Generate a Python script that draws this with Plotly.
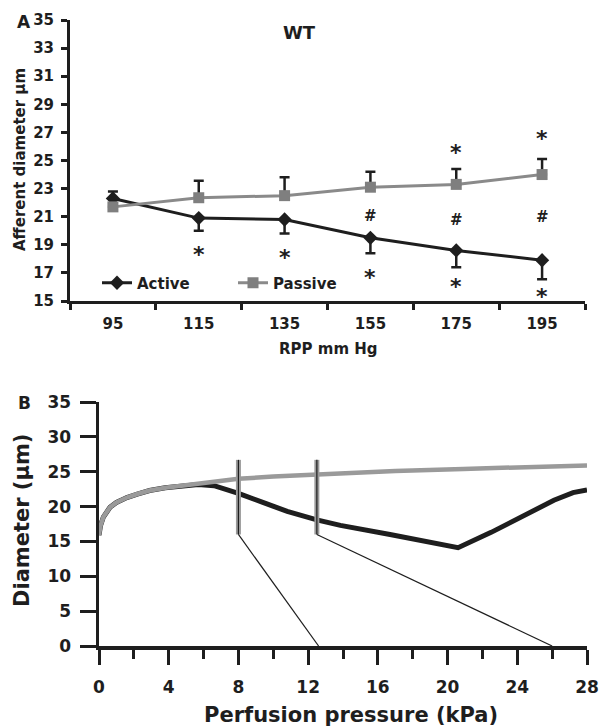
import plotly.graph_objects as go

# ---------------- Panel A data ----------------
rpp_labels = ["95", "115", "135", "155", "175", "195"]
active_mean = [22.3, 20.9, 20.8, 19.5, 18.6, 17.9]
active_err_plus = [0.5, 0, 0, 0, 0, 0]
active_err_minus = [0, 0.9, 1.0, 1.1, 1.2, 1.35]
passive_mean = [21.7, 22.35, 22.5, 23.1, 23.3, 24.0]
passive_err_plus = [0, 1.2, 1.3, 1.1, 1.1, 1.1]
a_yticks = [15, 17, 19, 21, 23, 25, 27, 29, 31, 33, 35]

# significance marks (category, y position, symbol)
sig_cat = ["115", "135", "155", "175", "195", "155", "175", "195", "175", "195"]
sig_y = [18.3, 18.1, 16.7, 16.05, 15.3, 21.05, 20.75, 20.95, 25.6, 26.55]
sig_txt = ["*", "*", "*", "*", "*", "#", "#", "#", "*", "*"]

# ---------------- Panel B data ----------------
p_passive = [0, 0.08, 0.25, 0.45, 0.63, 1.0, 1.6, 2.2, 2.9, 3.8, 4.8, 5.7, 6.6,
             8.0, 10.0, 12.5, 14.4, 17.0, 20.9, 24.0, 28.0]
d_passive = [15.9, 17.2, 18.5, 19.3, 19.9, 20.6, 21.3, 21.8, 22.3, 22.7, 23.0,
             23.25, 23.5, 24.0, 24.3, 24.6, 24.9, 25.1, 25.4, 25.6, 25.9]
p_active = [0, 0.08, 0.25, 0.45, 0.63, 1.0, 1.6, 2.2, 2.9, 3.8, 4.8, 5.7, 6.6,
            7.2, 8.0, 9.4, 10.8, 12.5, 13.85, 16.7, 19.6, 20.6, 22.5, 24.4,
            26.1, 27.2, 28.0]
d_active = [15.9, 17.2, 18.5, 19.3, 19.9, 20.6, 21.3, 21.8, 22.3, 22.7, 23.0,
            23.15, 23.0, 22.6, 21.9, 20.6, 19.3, 18.1, 17.3, 16.0, 14.7, 14.1,
            16.3, 18.7, 20.9, 22.0, 22.4]
marker_p = [8.0, 12.5]          # pressures of the two vertical markers
marker_low = [16.0, 16.0]
marker_high = [26.7, 26.7]
diag_end_p = [12.6, 26.0]       # where the thin lines meet the x-axis
diag_end_d = [0, 0]

DARK = "#1e1e1e"
GREY = "#8a8a8a"
GREY_B = "#9a9a9a"
FONT_A = "DejaVu Sans"
FONT_B = "DejaVu Sans"

fig = go.Figure()

# Panel A traces
fig.add_trace(go.Scatter(
    x=rpp_labels, y=active_mean, name="Active", mode="lines+markers",
    line=dict(color=DARK, width=3),
    marker=dict(symbol="diamond", size=11, color=DARK),
    error_y=dict(type="data", array=active_err_plus, arrayminus=active_err_minus,
                 symmetric=False, color=DARK, thickness=2.5, width=5),
    xaxis="x", yaxis="y"))
fig.add_trace(go.Scatter(
    x=rpp_labels, y=passive_mean, name="Passive", mode="lines+markers",
    line=dict(color=GREY, width=3),
    marker=dict(symbol="square", size=11, color="#7f7f7f"),
    error_y=dict(type="data", array=passive_err_plus,
                 arrayminus=[0] * len(passive_err_plus),
                 symmetric=False, color=DARK, thickness=2.5, width=5),
    xaxis="x", yaxis="y"))

# Panel B traces
bar_x, bar_y, diag_x, diag_y = [], [], [], []
for p, lo, hi, ep, ed in zip(marker_p, marker_low, marker_high, diag_end_p, diag_end_d):
    bar_x += [p, p, None]
    bar_y += [lo, hi, None]
    diag_x += [p, ep, None]
    diag_y += [lo, ed, None]

fig.add_trace(go.Scatter(x=p_active, y=d_active, mode="lines", showlegend=False,
                         line=dict(color=DARK, width=5), xaxis="x2", yaxis="y2"))
fig.add_trace(go.Scatter(x=p_passive, y=d_passive, mode="lines", showlegend=False,
                         line=dict(color=GREY_B, width=4.5), xaxis="x2", yaxis="y2"))
fig.add_trace(go.Scatter(x=bar_x, y=bar_y, mode="lines", showlegend=False,
                         line=dict(color=GREY_B, width=5), xaxis="x2", yaxis="y2"))
fig.add_trace(go.Scatter(x=bar_x, y=bar_y, mode="lines", showlegend=False,
                         line=dict(color=DARK, width=1.2), xaxis="x2", yaxis="y2"))
fig.add_trace(go.Scatter(x=diag_x, y=diag_y, mode="lines", showlegend=False,
                         line=dict(color=DARK, width=1.2), xaxis="x2", yaxis="y2"))

W, H = 601, 727
def px_x(p):
    return p / W
def px_y(p):
    return 1 - p / H

axis_common = dict(showgrid=False, zeroline=False, showline=True, linecolor=DARK,
                   ticks="outside", tickcolor=DARK, automargin=False)

fig.update_layout(
    template="none",
    width=W, height=H, margin=dict(l=0, r=0, t=0, b=0, pad=0),
    paper_bgcolor="white", plot_bgcolor="white",
    font=dict(family=FONT_A, color=DARK),
    xaxis=dict(**axis_common, domain=[px_x(70), px_x(585)], anchor="y",
               type="category", range=[-0.5, 5.5], tickson="boundaries",
               linewidth=3, tickwidth=3, ticklen=6, ticklabelstandoff=7,
               tickfont=dict(family=FONT_A, size=15, weight="bold", color=DARK)),
    yaxis=dict(**axis_common, domain=[px_y(301), px_y(20)], anchor="x",
               range=[15, 35], tickvals=a_yticks, linewidth=3, tickwidth=3,
               ticklen=6, ticklabelstandoff=4,
               tickfont=dict(family=FONT_A, size=15, weight="bold", color=DARK)),
    xaxis2=dict(**axis_common, domain=[px_x(99), px_x(587)], anchor="y2",
                range=[0, 28], dtick=4, tick0=0, linewidth=3.5, tickwidth=3,
                ticklen=15, ticklabelstandoff=8,
                minor=dict(dtick=2, tick0=0, ticks="outside", ticklen=9,
                           tickwidth=3, tickcolor=DARK, showgrid=False),
                tickfont=dict(family=FONT_B, size=17, weight="bold", color=DARK)),
    yaxis2=dict(**axis_common, domain=[px_y(646), px_y(402)], anchor="x2",
                range=[0, 35], dtick=5, tick0=0, linewidth=3.5, tickwidth=3,
                ticklen=16, ticklabelstandoff=5,
                tickfont=dict(family=FONT_B, size=17, weight="bold", color=DARK)),
    legend=dict(orientation="h", x=px_x(97), y=px_y(283), xanchor="left",
                yanchor="middle", bgcolor="rgba(0,0,0,0)", entrywidth=91,
                font=dict(family=FONT_A, size=15, weight="bold", color=DARK),
                tracegroupgap=0, itemwidth=30),
)

annotations = []
for c, yv, t in zip(sig_cat, sig_y, sig_txt):
    annotations.append(dict(x=rpp_labels.index(c), y=yv, xref="x", yref="y", text=t,
                            showarrow=False,
                            font=dict(family=FONT_A, size=22 if t == "*" else 15,
                                      weight="bold", color=DARK)))

text_items = [
    ("A", 24, 22, 17, 0, FONT_A),
    ("WT", 299, 32, 18, 0, FONT_A),
    ("Afferent diameter µm", 20, 160, 15, -90, FONT_A),
    ("RPP mm Hg", 328, 349, 15, 0, FONT_A),
    ("B", 24, 403, 17, 0, FONT_B),
    ("Diameter (µm)", 22, 521, 21, -90, FONT_B),
    ("Perfusion pressure (kPa)", 351, 715, 21, 0, FONT_B),
]
for t, xp, yp, sz, ang, fam in text_items:
    annotations.append(dict(x=px_x(xp), y=px_y(yp), xref="paper", yref="paper",
                            text=t, showarrow=False, textangle=ang,
                            xanchor="center", yanchor="middle",
                            font=dict(family=fam, size=sz, weight="bold", color=DARK)))
fig.update_layout(annotations=annotations)

fig.write_html("out.html",
               config={"displayModeBar": False, "staticPlot": True},
               post_script="document.body.style.margin='0';"
                           "document.body.style.padding='0';"
                           "document.body.style.overflow='hidden';")
